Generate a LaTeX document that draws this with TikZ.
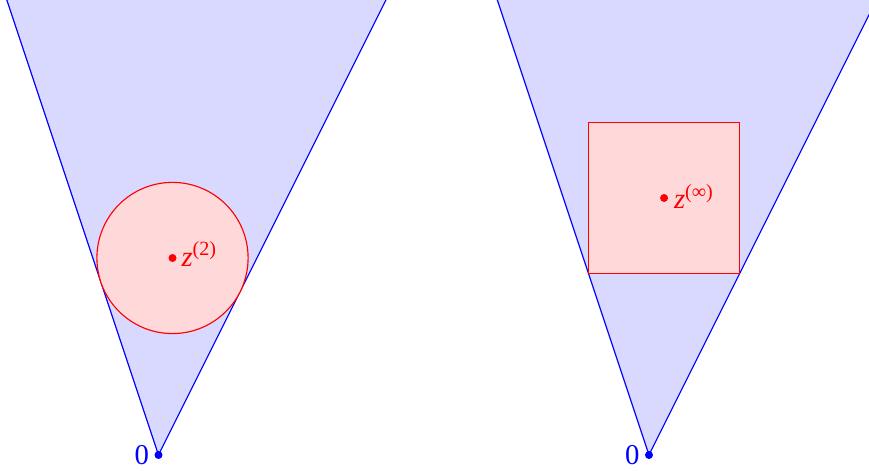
\documentclass[tikz,border=0pt]{standalone}
\usepackage{fontspec}
\setmainfont{Liberation Serif}
\usetikzlibrary{calc}
\begin{document}
\begin{tikzpicture}[x=0.4pt,y=0.4pt,
  cone/.style={draw=blue,fill=blue!15,line width=0.45pt},
  ball/.style={draw=red,fill=red!15,line width=0.45pt},
  bdot/.style={circle,fill=blue,inner sep=0pt,minimum size=3.2pt},
  rdot/.style={circle,fill=red,inner sep=0pt,minimum size=3.2pt},
  lbl/.style={inner sep=0pt,font=\fontsize{11.5}{13}\selectfont}]
\useasboundingbox (0,0) rectangle (869,471);
\clip (0,0) rectangle (869,471);
% cones
\coordinate (A1) at (158.5,16);
\coordinate (A2) at (649,16);
\draw[cone] ($(A1)+(-200,600)$) -- (A1) -- ($(A1)+(300,600)$);
\draw[cone] ($(A2)+(-200,600)$) -- (A2) -- ($(A2)+(300,600)$);
% circle
\coordinate (C) at (172.5,213);
\draw[ball] (C) circle (75.6);
% square
\coordinate (S) at (664.1,273);
\draw[ball] (588.5,197.4) rectangle (739.7,348.6);
% dots
\node[bdot] (o1) at (A1) {};
\node[bdot] (o2) at (A2) {};
\node[rdot] (z2) at (C) {};
\node[rdot] (zi) at (S) {};
% labels
\node[lbl,text=blue,anchor=east] (l1) at (149.5,16) {0};
\node[lbl,text=blue,anchor=east] (l2) at (640,16) {0};
\node[lbl,text=red,anchor=base west] (t2) at (181,204.3) {\textit{z}\textsuperscript{(2)}};
\node[lbl,text=red,anchor=base west] (ti) at (673.5,262) {\textit{z}\textsuperscript{(∞)}};
\end{tikzpicture}
\end{document}
